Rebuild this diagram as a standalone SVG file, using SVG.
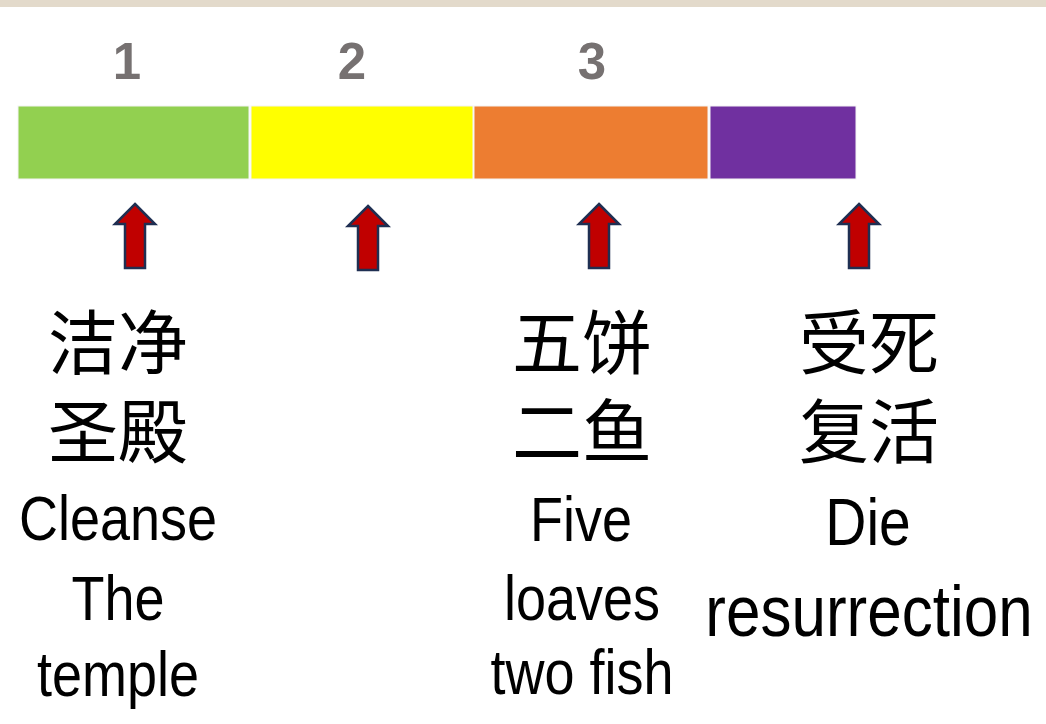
<svg xmlns="http://www.w3.org/2000/svg" width="1046" height="724" viewBox="0 0 1046 724">
<style>
.num{font-family:"Liberation Sans",Arial,sans-serif;font-weight:bold;font-size:51px;fill:#767171;text-anchor:middle}
.zh{font-family:"Liberation Sans","Noto Sans CJK SC",sans-serif;font-size:70px;fill:#000;text-anchor:middle}
.en{font-family:"Liberation Sans",Arial,sans-serif;font-size:54px;fill:#000;text-anchor:middle}
.die{font-family:"Liberation Sans",Arial,sans-serif;font-size:57px;fill:#000;text-anchor:middle}
.res{font-family:"Liberation Sans",Arial,sans-serif;font-size:62px;fill:#000;text-anchor:middle}
.arrow{fill:#c00000;stroke:#1f2f52;stroke-width:2.5;stroke-linejoin:miter}
.seg{stroke:#f4f4f4;stroke-width:1}
</style>
<defs>
<path id="arr" d="M0,0 L20,20 L10,20 L10,64 L-10,64 L-10,20 L-20,20 Z"/>
</defs>
<rect x="0" y="0" width="1046" height="724" fill="#fff"/>
<rect x="0" y="0" width="1046" height="7" fill="#e3dacb"/>
<g id="numbers">
<text class="num" x="127" y="79">1</text>
<text class="num" x="352" y="79">2</text>
<text class="num" x="592" y="79">3</text>
</g>
<g id="bar">
<rect class="seg" x="18" y="106" width="231" height="73" fill="#92d050"/>
<rect class="seg" x="251" y="106" width="222" height="73" fill="#ffff00"/>
<rect class="seg" x="474" y="106" width="234" height="73" fill="#ed7d31"/>
<rect class="seg" x="710" y="106" width="146" height="73" fill="#7030a0"/>
</g>
<g id="connectors">
<use href="#arr" class="arrow" x="135" y="204"/>
<use href="#arr" class="arrow" x="368" y="206"/>
<use href="#arr" class="arrow" x="599" y="204"/>
<use href="#arr" class="arrow" x="859" y="204"/>
</g>
<g id="label1">
<text class="zh" x="118" y="369">洁净</text>
<text class="zh" x="118" y="458">圣殿</text>
<text class="en" transform="translate(118,540) scale(1,1.18)">Cleanse</text>
<text class="en" transform="translate(118,620) scale(1,1.18)">The</text>
<text class="en" transform="translate(118,696) scale(1,1.18)">temple</text>
</g>
<g id="label3">
<text class="zh" x="582" y="369">五饼</text>
<text class="zh" x="582" y="458">二鱼</text>
<text class="en" transform="translate(581,541) scale(1,1.18)">Five</text>
<text class="en" transform="translate(582,620) scale(1,1.18)">loaves</text>
<text class="en" transform="translate(582,694) scale(1,1.18)">two fish</text>
</g>
<g id="label4">
<text class="zh" x="869" y="369">受死</text>
<text class="zh" x="869" y="458">复活</text>
<text class="die" transform="translate(868,545) scale(1,1.18)">Die</text>
<text class="res" transform="translate(869,636) scale(1,1.18)">resurrection</text>
</g>
</svg>
